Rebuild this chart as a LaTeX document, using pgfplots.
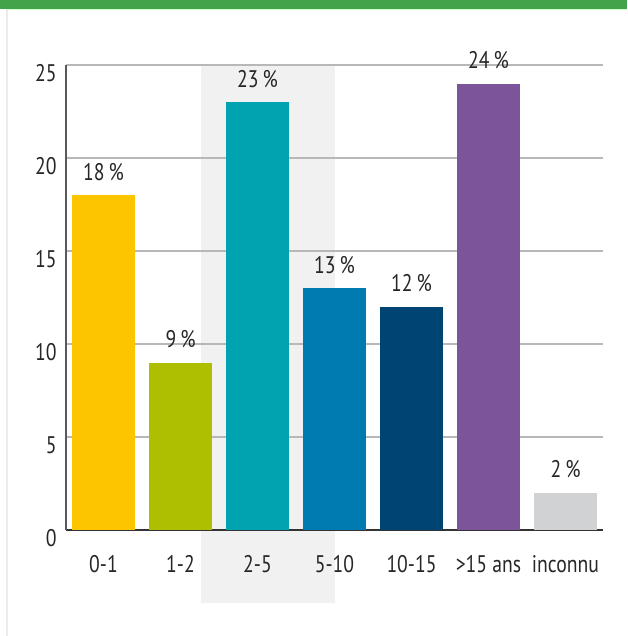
\documentclass[border=0pt]{standalone}
\usepackage{pgfplots}
\pgfplotsset{compat=1.18}
\usepackage{fontspec}
\setmainfont[FakeStretch=0.82]{PT Sans}
\definecolor{cYel}{HTML}{FCC500}
\definecolor{cLime}{HTML}{ADBF00}
\definecolor{cTeal}{HTML}{00A3AF}
\definecolor{cBlue}{HTML}{007BB1}
\definecolor{cNavy}{HTML}{004473}
\definecolor{cPurp}{HTML}{7B5499}
\definecolor{cGrey}{HTML}{D1D2D4}
\definecolor{band}{HTML}{F0F1F0}
\definecolor{topgreen}{HTML}{43A34A}
\begin{document}
\begin{tikzpicture}
  % frame: 1px = 0.5pt, picture 627x636 px
  \path[use as bounding box] (0,0) rectangle (313.5pt,318pt);
  \fill[topgreen] (0,313.5pt) rectangle (313.5pt,318pt);
  \draw[green!20, line width=0.5pt] (3.5pt,313.2pt) -- (313.5pt,313.2pt);
  \fill[black!8] (3.2pt,0) rectangle (4.2pt,313.5pt);
  % shaded band behind 2-5
  \fill[band] (100.5pt,16.5pt) rectangle (167.5pt,285.5pt);
  \begin{axis}[
      at={(33pt,53pt)}, anchor=south west,
      scale only axis,
      width=268.5pt, height=232.5pt,
      ybar, bar width=31.5pt,
      xmin=-0.487, xmax=6.487,
      ymin=0, ymax=25,
      axis x line=bottom, axis y line=left,
      axis line style={-},
      x axis line style={line width=1.1pt, color=black!80},
      y axis line style={line width=0.6pt, color=black!65},
      ymajorgrids, grid style={line width=0.6pt, color=black!28},
      xtick={0,...,6},
      xticklabels={0-1, 1-2, 2-5, 5-10, 10-15, >15 ans, inconnu},
      ytick={0,5,...,25},
      major tick length=0pt,
      tick label style={font=\fontsize{12}{14}\selectfont, text=black!85},
      xticklabel style={anchor=base, inner sep=0pt, yshift=-21pt},
      yticklabel style={anchor=base east, inner sep=0pt, xshift=-4.5pt, yshift=-8.5pt},
      /pgf/number format/assume math mode=true,
      nodes near coords={\pgfmathprintnumber{\pgfplotspointmeta}\,\%},
      every node near coord/.append style={font=\fontsize{12}{14}\selectfont, text=black!85,
        anchor=base, inner sep=0pt, yshift=7.5pt},
      clip=false,
      every axis plot/.append style={draw=none, bar shift=0pt},
    ]
    \addplot[fill=cYel]  coordinates {(0,18)};
    \addplot[fill=cLime] coordinates {(1,9)};
    \addplot[fill=cTeal] coordinates {(2,23)};
    \addplot[fill=cBlue] coordinates {(3,13)};
    \addplot[fill=cNavy] coordinates {(4,12)};
    \addplot[fill=cPurp] coordinates {(5,24)};
    \addplot[fill=cGrey] coordinates {(6,2)};
  \end{axis}
\end{tikzpicture}
\end{document}
